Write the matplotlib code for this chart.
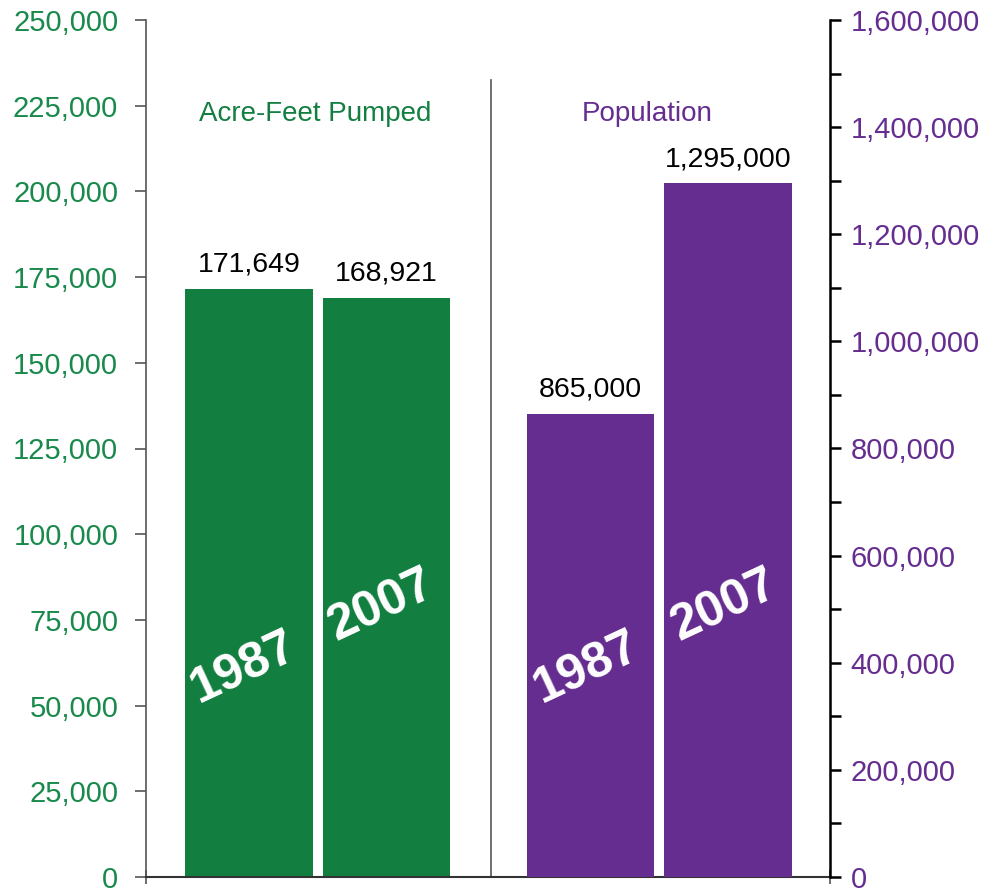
import matplotlib
matplotlib.use("Agg")
import matplotlib.pyplot as plt
from matplotlib.ticker import FuncFormatter, MultipleLocator

plt.rcParams['font.family'] = ['Liberation Sans', 'DejaVu Sans']

years = ["1987", "2007"]
acre_feet = [171649, 168921]
population = [865000, 1295000]
group_titles = ["Acre-Feet Pumped", "Population"]

GREEN = "#127F41"
PURPLE = "#652D90"
TICK_GREEN = "#1A8A4C"

fig = plt.figure(figsize=(9.83, 8.89), dpi=100)
ax = fig.add_axes([146/983, 1-877/889, (830-146)/983, (877-20)/889])
ax2 = ax.twinx()

pos_left = [0.749, 1.749]
pos_right = [3.233, 4.236]
w = 0.93

ax.bar(pos_left, acre_feet, width=w, color=GREEN, zorder=2)
ax2.bar(pos_right, population, width=w, color=PURPLE, zorder=2)

ax.set_xlim(0, 4.975)
ax.set_ylim(0, 250000)
ax2.set_ylim(0, 1600000)

fmt = FuncFormatter(lambda v, p: f"{int(v):,}")
ax.yaxis.set_major_locator(MultipleLocator(25000))
ax.yaxis.set_major_formatter(fmt)
ax2.yaxis.set_major_locator(MultipleLocator(200000))
ax2.yaxis.set_minor_locator(MultipleLocator(100000))
ax2.yaxis.set_major_formatter(fmt)

ax.tick_params(axis='y', colors="#555555", labelcolor=TICK_GREEN, labelsize=21,
               length=8, width=1.2, direction='out', pad=12)
ax2.tick_params(axis='y', which='both', colors="black", labelcolor=PURPLE,
                labelsize=21, length=8, width=1.8, direction='out', pad=7)
ax2.tick_params(axis='y', which='minor', length=8, width=1.8)

ax.set_xticks([0, 4.975])
ax.set_xticklabels(["", ""])
ax.tick_params(axis='x', length=10, width=1.2, colors="#555555", direction='inout')

for a in (ax, ax2):
    a.spines['top'].set_visible(False)
ax.spines['left'].set_color("#555555")
ax.spines['left'].set_linewidth(1.2)
ax.spines['bottom'].set_color("#333333")
ax.spines['bottom'].set_linewidth(1.5)
ax2.spines['right'].set_color("black")
ax2.spines['right'].set_linewidth(1.8)
ax2.spines['left'].set_visible(False)
ax2.spines['bottom'].set_visible(False)

# divider
ax.plot([2.509, 2.509], [0, 232500], color="#555555", lw=1.2, zorder=1)

# group titles
ax.text(1.229, 222500, group_titles[0], color=GREEN,
        fontsize=20, ha='center', va='center')
ax.text(3.644, 222500, group_titles[1], color=PURPLE,
        fontsize=20, ha='center', va='center')

# value labels
for x, v in zip(pos_left, acre_feet):
    ax.annotate(f"{v:,}", (x, v), xytext=(0, 8), textcoords='offset points',
                ha='center', va='bottom', fontsize=20.5, color='black')
for x, v in zip(pos_right, population):
    ax2.annotate(f"{v:,}", (x, v), xytext=(0, 8), textcoords='offset points',
                 ha='center', va='bottom', fontsize=20.5, color='black')

# year labels inside bars
ylab_l = [61000, 79000]
ylab_r = [61000 * 6.4, 79000 * 6.4]
for i, x in enumerate(pos_left):
    ax.text(x - 0.04, ylab_l[i], years[i], color='white', fontsize=36, fontweight='bold',
            rotation=25, ha='center', va='center', rotation_mode='anchor', zorder=3)
for i, x in enumerate(pos_right):
    ax2.text(x - 0.03, ylab_r[i], years[i], color='white', fontsize=36, fontweight='bold',
             rotation=25, ha='center', va='center', rotation_mode='anchor', zorder=3)

fig.savefig("out.png", dpi=100)
